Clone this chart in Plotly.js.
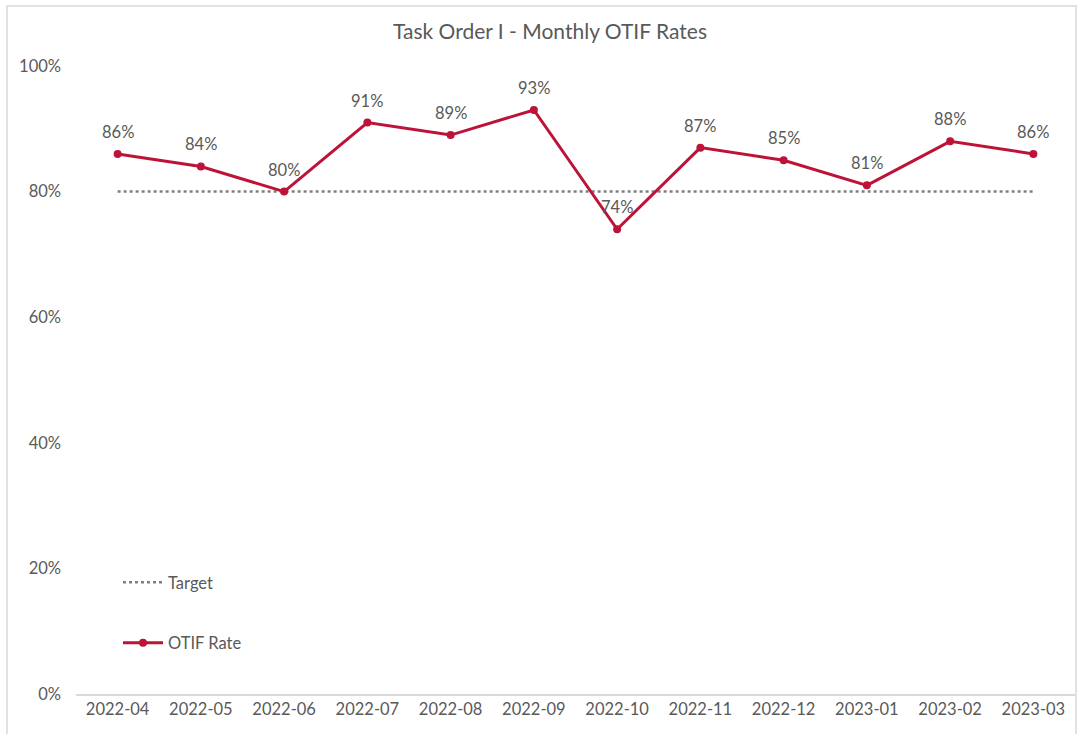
<!DOCTYPE html>
<html>
<head>
<meta charset="utf-8">
<script src="https://cdn.plot.ly/plotly-3.0.1.min.js"></script>
<style>
html,body{margin:0;padding:0;background:#fff;}
#chart{width:1078px;height:734px;}
</style>
</head>
<body>
<div id="chart"></div>
<script>
const months = ["2022-04","2022-05","2022-06","2022-07","2022-08","2022-09","2022-10","2022-11","2022-12","2023-01","2023-02","2023-03"];
const otifRate = [0.86,0.84,0.80,0.91,0.89,0.93,0.74,0.87,0.85,0.81,0.88,0.86];
const target = [0.80,0.80,0.80,0.80,0.80,0.80,0.80,0.80,0.80,0.80,0.80,0.80];
const yTicks = [0,0.2,0.4,0.6,0.8,1.0];
const yTickLabels = ["0%","20%","40%","60%","80%","100%"];

const font = "Lato, 'Open Sans', sans-serif";
const gray = "#595959";
const red = "#BE1339";

const traces = [
  {
    x: months, y: target, name: "Target", type: "scatter", mode: "lines",
    line: {color: "#7f7f7f", width: 2.5, dash: "dot"},
    legendgroup: "a", hoverinfo: "skip"
  },
  {
    x: months, y: otifRate, name: "OTIF Rate", type: "scatter", mode: "lines+markers",
    line: {color: red, width: 3},
    marker: {color: red, size: 8},
    legendgroup: "b"
  }
];

const labelAnnotations = months.map((m, i) => ({
  x: m, y: otifRate[i], xref: "x", yref: "y",
  text: Math.round(otifRate[i] * 100) + "%",
  showarrow: false, yshift: 22,
  font: {family: font, size: 16.5, color: gray}
}));

const pl = 76, pr = 3, pt = 66, pb = 40;
const W = 1078, H = 734;
const pw = W - pl - pr, ph = H - pt - pb;

const layout = {
  width: W, height: H,
  margin: {l: pl, r: pr, t: pt, b: pb},
  paper_bgcolor: "#fff", plot_bgcolor: "#fff",
  title: {text: "Task Order I - Monthly OTIF Rates", font: {family: font, size: 21, color: gray}, xref: "container", x: 550 / W, xanchor: "center", y: 1 - 32/H, yanchor: "middle"},
  xaxis: {
    type: "category", showgrid: false, zeroline: false,
    showline: true, linecolor: "#d9d9d9", linewidth: 1.5,
    ticks: "", tickfont: {family: font, size: 16.5, color: gray},
    range: [-0.5, 11.5], fixedrange: true
  },
  yaxis: {
    range: [0, 1], tickvals: yTicks, ticktext: yTickLabels,
    showgrid: false, zeroline: false, showline: false, ticks: "",
    tickfont: {family: font, size: 16.5, color: gray}, ticklabelstandoff: 14,
    fixedrange: true
  },
  showlegend: true,
  legend: {
    x: (118 - pl) / pw, y: (H - pb - 565) / ph, xanchor: "left", yanchor: "top",
    bgcolor: "rgba(0,0,0,0)", font: {family: font, size: 16.5, color: gray},
    traceorder: "grouped", tracegroupgap: 36, itemwidth: 40
  },
  annotations: labelAnnotations,
  shapes: [
    {type: "rect", xref: "paper", yref: "paper",
     x0: (7 - pl) / pw, x1: (1076 - pl) / pw,
     y0: (H - pb - 740) / ph, y1: (H - pb - 6) / ph,
     line: {color: "#d9d9d9", width: 1.5}, fillcolor: "rgba(0,0,0,0)"}
  ]
};

Plotly.newPlot("chart", traces, layout, {displayModeBar: false, staticPlot: true});
</script>
</body>
</html>
